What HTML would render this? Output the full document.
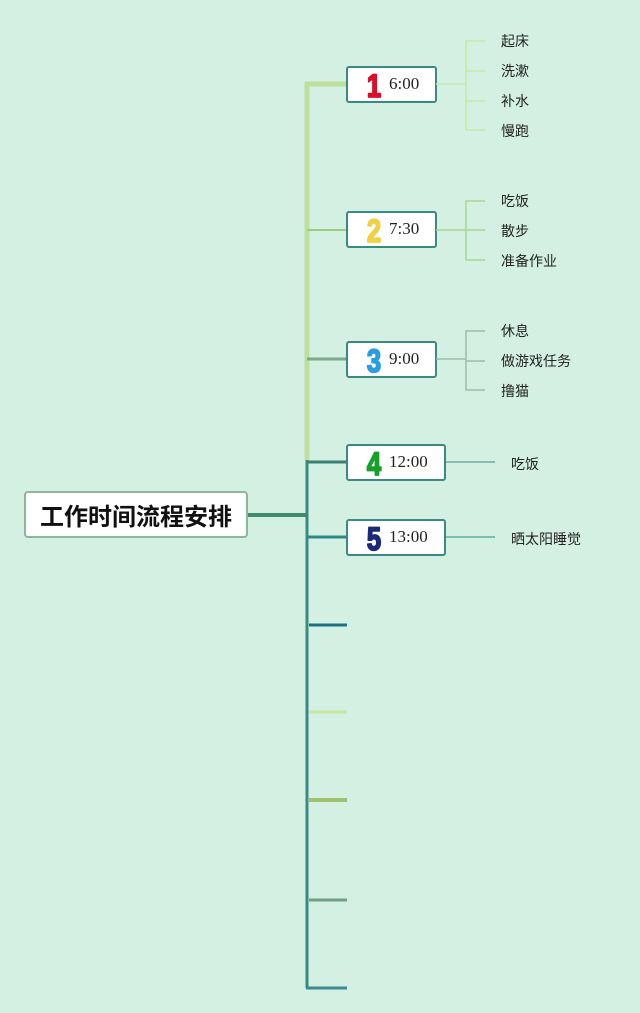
<!DOCTYPE html>
<html><head><meta charset="utf-8"><style>
html,body{margin:0;padding:0;background:#d3f0e2;}
svg{display:block}
.cj{font-family:"Liberation Sans","Noto Sans CJK SC",sans-serif;font-size:14px;fill:#222}
.tm{font-family:"Liberation Serif",serif;font-size:17px;fill:#222}
.num{font-family:"Liberation Sans","DejaVu Sans",sans-serif;font-weight:bold;font-size:32px;stroke-width:1.8;stroke-linejoin:round}
</style></head><body>
<svg width="640" height="1013" viewBox="0 0 640 1013" xmlns="http://www.w3.org/2000/svg">
<rect width="640" height="1013" fill="#d3f0e2"/>
<path d="M347 84 H307 V460" stroke="#bfe09c" stroke-width="5" fill="none"/>
<line x1="307" y1="460" x2="307" y2="988" stroke="#3a8a84" stroke-width="3"/>
<line x1="306" y1="988" x2="347" y2="988" stroke="#3a8a90" stroke-width="3"/>
<line x1="247" y1="515" x2="307" y2="515" stroke="#3f8a6f" stroke-width="4"/>
<line x1="307" y1="230" x2="347" y2="230" stroke="#9acd80" stroke-width="2"/>
<line x1="307" y1="359" x2="347" y2="359" stroke="#7aaa88" stroke-width="3"/>
<line x1="307" y1="462" x2="347" y2="462" stroke="#3a8070" stroke-width="3"/>
<line x1="307" y1="537" x2="347" y2="537" stroke="#2a8a8a" stroke-width="3"/>
<line x1="309" y1="625" x2="347" y2="625" stroke="#1f7080" stroke-width="3"/>
<line x1="309" y1="712" x2="347" y2="712" stroke="#c8e8a0" stroke-width="3"/>
<line x1="309" y1="800" x2="347" y2="800" stroke="#a0c070" stroke-width="4"/>
<line x1="309" y1="900" x2="347" y2="900" stroke="#70a080" stroke-width="3"/>
<rect x="25" y="492" width="222" height="45" rx="3" fill="#fff" stroke="#8ab89a" stroke-width="2"/>
<text x="136" y="525" text-anchor="middle" style="font-family:'Liberation Sans','Noto Sans CJK SC',sans-serif;font-weight:bold;font-size:24px;fill:#111">工作时间流程安排</text>
<g stroke="#3a8a84" stroke-width="2" fill="#fff">
<rect x="347" y="67" width="89" height="35" rx="2"/>
<rect x="347" y="212" width="89" height="35" rx="2"/>
<rect x="347" y="342" width="89" height="35" rx="2"/>
<rect x="347" y="445" width="98" height="35" rx="2"/>
<rect x="347" y="520" width="98" height="35" rx="2"/>
</g>
<g transform="translate(374,0) scale(0.8,1)">
<text x="0" y="97" text-anchor="middle" class="num" fill="#d8102a" stroke="#d8102a">1</text>
<text x="0" y="242" text-anchor="middle" class="num" fill="#f2d040" stroke="#f2d040">2</text>
<text x="0" y="372" text-anchor="middle" class="num" fill="#2a9ee0" stroke="#2a9ee0">3</text>
<text x="0" y="475" text-anchor="middle" class="num" fill="#17a02a" stroke="#17a02a">4</text>
<text x="0" y="550" text-anchor="middle" class="num" fill="#1a2a7a" stroke="#1a2a7a">5</text>
</g>
<text x="389" y="89" class="tm">6:00</text>
<text x="389" y="234" class="tm">7:30</text>
<text x="389" y="364" class="tm">9:00</text>
<text x="389" y="467" class="tm">12:00</text>
<text x="389" y="542" class="tm">13:00</text>
<g stroke="#c8e8a8" stroke-width="1.5" fill="none">
<line x1="436" y1="84" x2="466" y2="84"/>
<path d="M485 41 H466 V130 H485 M466 71 H485 M466 101 H485"/>
</g>
<g stroke="#a8d890" stroke-width="1.5" fill="none">
<line x1="436" y1="230" x2="466" y2="230"/>
<path d="M485 201 H466 V260 H485 M466 230 H485"/>
</g>
<g stroke="#9cbca8" stroke-width="1.5" fill="none">
<line x1="436" y1="359" x2="466" y2="359"/>
<path d="M485 331 H466 V390 H485 M466 361 H485"/>
</g>
<line x1="446" y1="462" x2="495" y2="462" stroke="#3a8a84" stroke-width="1"/>
<line x1="446" y1="537" x2="495" y2="537" stroke="#2a8a8a" stroke-width="1"/>
<text class="cj" x="501" y="46">起床</text>
<text class="cj" x="501" y="76">洗漱</text>
<text class="cj" x="501" y="106">补水</text>
<text class="cj" x="501" y="136">慢跑</text>
<text class="cj" x="501" y="206">吃饭</text>
<text class="cj" x="501" y="236">散步</text>
<text class="cj" x="501" y="266">准备作业</text>
<text class="cj" x="501" y="336">休息</text>
<text class="cj" x="501" y="366">做游戏任务</text>
<text class="cj" x="501" y="396">撸猫</text>
<text class="cj" x="511" y="469">吃饭</text>
<text class="cj" x="511" y="544">晒太阳睡觉</text>
</svg>
</body></html>
